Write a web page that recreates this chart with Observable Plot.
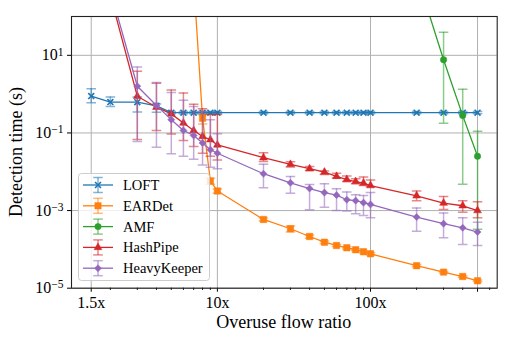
<!DOCTYPE html>
<html><head><meta charset="utf-8">
<script src="https://cdn.jsdelivr.net/npm/d3@7"></script>
<script src="https://cdn.jsdelivr.net/npm/@observablehq/plot@0.6"></script>
<style>
body{margin:0;background:#fff;}
#chart{width:509px;height:339px;}
</style></head><body><div id="chart"></div>
<script>
// ---- data ----
const ratios = [1.5,2,3,4,5,6,7,8,9,10,20,30,40,50,60,70,80,90,100,200,300,400,500];
const majorRatios = [1.5,10,100,500];
const xTickLabels = ["1.5x","10x","100x","500x"];
const minorRatios = [2,3,4,5,6,7,8,9,20,30,40,50,60,70,80,90,200,300,400,600];
const yTicks = [1e-5,1e-3,1e-1,10];

const seriesNames = ["LOFT","EARDet","AMF","HashPipe","HeavyKeeper"];
const seriesColors = ["#1f77b4","#ff7f0e","#2ca02c","#d62728","#9467bd"];
const seriesSymbols = ["times","square","circle","triangle","diamond2"];

const loftTime = [0.89,0.625,0.62,0.50,0.333,0.333,0.333,0.333,0.333,0.333,0.333,0.333,0.333,0.333,0.333,0.333,0.333,0.333,0.333,0.333,0.333,0.333,0.333];
const loftLow  = [0.60,0.48,0.345,0.34,0.31,0.31,0.31,0.31,0.31,0.31,0.31,0.31,0.31,0.31,0.31,0.31,0.31,0.31,0.31,0.31,0.31,0.31,0.31];
const loftHigh = [1.38,0.84,0.84,0.56,0.355,0.355,0.355,0.355,0.355,0.355,0.355,0.355,0.355,0.355,0.355,0.355,0.355,0.355,0.355,0.355,0.355,0.355,0.355];

const eardetTime = [null,null,null,null,null,null,800,0.24,0.0058,0.0032,5.9e-4,3.4e-4,2.15e-4,1.53e-4,1.26e-4,1.1e-4,9.8e-5,8.7e-5,7.7e-5,3.8e-5,2.6e-5,2.0e-5,1.55e-5];
const eardetLow  = [null,null,null,null,null,null,800,0.17,0.0048,0.0028,5.4e-4,2.8e-4,1.95e-4,1.42e-4,1.18e-4,1.03e-4,9.2e-5,8.2e-5,7.2e-5,3.55e-5,2.45e-5,1.9e-5,1.47e-5];
const eardetHigh = [null,null,null,null,null,null,800,0.30,0.0068,0.0036,6.4e-4,4.0e-4,2.35e-4,1.65e-4,1.34e-4,1.17e-4,1.04e-4,9.2e-5,8.2e-5,4.05e-5,2.75e-5,2.1e-5,1.63e-5];

const amfTime = [null,null,null,null,null,null,null,null,null,null,null,null,null,null,null,null,null,null,null,1200,7.7,0.28,0.025];
const amfLow  = [null,null,null,null,null,null,null,null,null,null,null,null,null,null,null,null,null,null,null,1200,0.177,0.0048,3.3e-4];
const amfHigh = [null,null,null,null,null,null,null,null,null,null,null,null,null,null,null,null,null,null,null,1200,39,1.33,0.11];

const hashpipeTime = [null,350,0.88,0.46,0.31,0.18,0.116,0.081,0.067,0.049,0.023,0.0155,0.012,0.0098,0.0076,0.0063,0.0056,0.0051,0.0044,0.0024,0.00156,0.00133,0.0010];
const hashpipeLow  = [null,350,0.068,0.116,0.094,0.064,0.045,0.030,0.025,0.020,0.0185,0.0132,0.0108,0.0085,0.0069,0.0056,0.0049,0.0044,0.0041,0.0018,0.00107,0.00091,0.00065];
const hashpipeHigh = [null,350,3.9,1.9,1.27,1.07,0.55,0.42,0.30,0.30,0.031,0.018,0.0137,0.0105,0.0091,0.0078,0.0066,0.0073,0.0061,0.0032,0.0023,0.0018,0.0017];

const heavyTime = [null,470,1.6,0.51,0.22,0.116,0.086,0.055,0.037,0.030,0.0089,0.0052,0.0037,0.0029,0.0025,0.0019,0.0018,0.0016,0.00144,6.8e-4,4.6e-4,3.6e-4,2.8e-4];
const heavyLow  = [null,470,0.06,0.043,0.029,0.025,0.021,0.015,0.013,0.012,0.0039,0.0028,0.00105,0.00122,0.0010,0.00097,0.00083,0.00075,0.00065,2.94e-4,2.0e-4,1.34e-4,1.26e-4];
const heavyHigh = [null,470,5.0,1.98,1.1,0.70,0.48,0.35,0.22,0.095,0.0155,0.0076,0.0047,0.0049,0.00366,0.0030,0.00256,0.00245,0.0029,0.00116,8.6e-4,6.5e-4,5.0e-4];

const seriesTime = [loftTime, eardetTime, amfTime, hashpipeTime, heavyTime];
const seriesLow = [loftLow, eardetLow, amfLow, hashpipeLow, heavyLow];
const seriesHigh = [loftHigh, eardetHigh, amfHigh, hashpipeHigh, heavyHigh];

// ---- build table ----
const rows = [];
seriesNames.forEach((name, s) => {
  ratios.forEach((r, i) => {
    const v = seriesTime[s][i];
    if (v == null) return;
    rows.push({series: name, ratio: r, time: v, lo: seriesLow[s][i], hi: seriesHigh[s][i]});
  });
});

const serif = "'Liberation Serif', 'Times New Roman', serif";
const capSymbol = {draw(ctx, size) { const w = Math.sqrt(size) / 2; ctx.moveTo(-w, 0); ctx.lineTo(w, 0); }};
const markerR = [2.8, 3.6, 3.2, 2.9, 3.2];

const marks = [
  Plot.gridX({ticks: majorRatios, stroke: "#b0b0b0", strokeOpacity: 1, strokeWidth: 1}),
  Plot.gridY({ticks: yTicks, stroke: "#b0b0b0", strokeOpacity: 1, strokeWidth: 1})
];
seriesNames.forEach((name, s) => {
  const d = rows.filter(r => r.series === name);
  const c = seriesColors[s];
  const eb = {stroke: c, strokeOpacity: 0.55, strokeWidth: 1.5, clip: true};
  marks.push(
    Plot.ruleX(d, {x: "ratio", y1: "lo", y2: "hi", ...eb}),
    Plot.dot(d, {x: "ratio", y: "lo", symbol: capSymbol, r: 5.4, fill: "none", ...eb}),
    Plot.dot(d, {x: "ratio", y: "hi", symbol: capSymbol, r: 5.4, fill: "none", ...eb}),
    Plot.line(d, {x: "ratio", y: "time", stroke: c, strokeWidth: 1.3, clip: true}),
    Plot.dot(d, {x: "ratio", y: "time", symbol: seriesSymbols[s], r: markerR[s],
      fill: seriesSymbols[s] === "times" ? "none" : c, stroke: c, strokeWidth: seriesSymbols[s] === "times" ? 1.6 : 0.5, clip: true})
  );
});
marks.push(
  Plot.axisX({ticks: minorRatios, tickSize: 2.2, tickFormat: () => "", label: null}),
  Plot.axisX({ticks: majorRatios, tickSize: 4, tickPadding: 4, tickFormat: d => xTickLabels[majorRatios.indexOf(d)], label: null, fontFamily: serif, fontSize: 16}),
  Plot.axisY({ticks: yTicks, tickSize: 4, tickPadding: 4, tickFormat: d => "10^" + Math.round(Math.log10(d)), label: null, fontFamily: serif, fontSize: 16}),
  Plot.frame({stroke: "#222", strokeWidth: 1.1})
);

const chart = Plot.plot({
  width: 509, height: 339,
  marginLeft: 71, marginRight: 12.3, marginTop: 16, marginBottom: 51.3,
  style: {fontFamily: serif, fontSize: "16px", background: "white", color: "black"},
  x: {type: "log", domain: [1.115, 672]},
  y: {type: "log", domain: [1e-5, 100]},
  marks
});
document.getElementById("chart").appendChild(chart);

const svg = d3.select(chart);
svg.selectAll('g[aria-label$="tick label"]').attr("font-family", serif).style("font-family", serif).attr("font-size", 16);
// superscript exponents on y tick labels
svg.selectAll('g[aria-label="y-axis tick label"] text').each(function() {
  const t = d3.select(this);
  const parts = t.text().split("^");
  if (parts.length !== 2) return;
  t.text(parts[0]);
  t.append("tspan").attr("dy", "-0.42em").attr("font-size", "0.72em").text(parts[1].replace("-", "\u2212"));
});

// axis titles
svg.append("text").attr("x", 283.8).attr("y", 328).attr("text-anchor", "middle")
  .attr("font-size", 18).attr("font-family", serif).text("Overuse flow ratio");
svg.append("text").attr("transform", "translate(22,152) rotate(-90)").attr("text-anchor", "middle")
  .attr("font-size", 18).attr("font-family", serif).text("Detection time (s)");

// legend
const lg = svg.append("g").attr("font-family", serif).attr("text-anchor", "start");
lg.append("rect").attr("x", 78.5).attr("y", 173.5).attr("width", 131).attr("height", 107).attr("rx", 3)
  .attr("fill", "white").attr("fill-opacity", 0.8).attr("stroke", "#cccccc");
const d3Symbols = {times: d3.symbolTimes, square: d3.symbolSquare, circle: d3.symbolCircle, triangle: d3.symbolTriangle, diamond2: d3.symbolDiamond2};
seriesNames.forEach((name, s) => {
  const cy = 185 + s * 20.8, c = seriesColors[s];
  lg.append("line").attr("x1", 83).attr("x2", 113).attr("y1", cy).attr("y2", cy).attr("stroke", c).attr("stroke-width", 1.3);
  lg.append("line").attr("x1", 98).attr("x2", 98).attr("y1", cy - 7.5).attr("y2", cy + 7.5).attr("stroke", c).attr("stroke-opacity", 0.55).attr("stroke-width", 1.5);
  [cy - 7.5, cy + 7.5].forEach(yy => lg.append("line").attr("x1", 93.2).attr("x2", 102.8).attr("y1", yy).attr("y2", yy).attr("stroke", c).attr("stroke-opacity", 0.55).attr("stroke-width", 1.5));
  const sym = seriesSymbols[s];
  lg.append("path").attr("transform", `translate(98,${cy})`)
    .attr("d", d3.symbol(d3Symbols[sym], Math.PI * markerR[s] * markerR[s])())
    .attr("fill", sym === "times" ? "none" : c).attr("stroke", c).attr("stroke-width", sym === "times" ? 1.6 : 0.5);
  lg.append("text").attr("x", 123).attr("y", cy).attr("dy", "0.35em").attr("font-size", 14.5).attr("text-anchor", "start").text(name);
});
</script></body></html>
